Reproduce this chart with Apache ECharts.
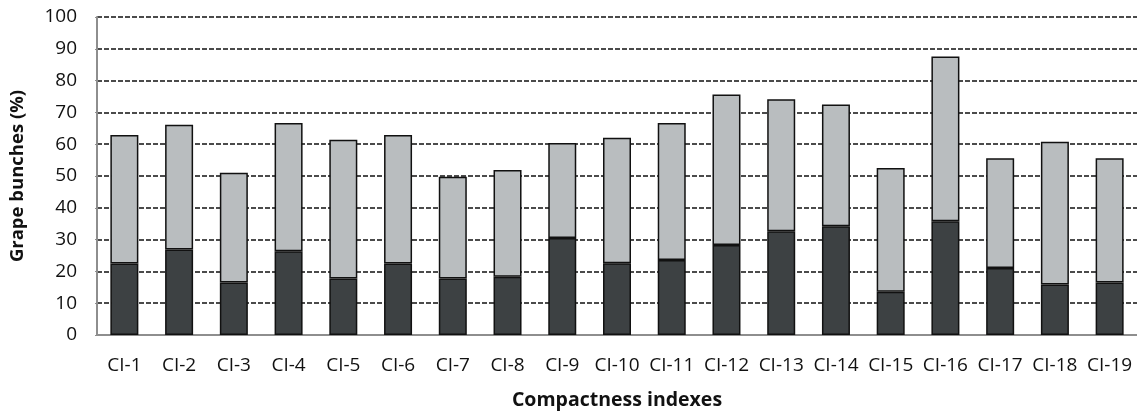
<!DOCTYPE html>
<html>
<head>
<meta charset="utf-8">
<script src="https://cdn.jsdelivr.net/npm/echarts@6/dist/echarts.min.js"></script>
<style>
html,body{margin:0;padding:0;background:#fff;}
#chart{width:1137px;height:415px;}
</style>
</head>
<body>
<div id="chart"></div>
<script>
const categories = ['CI-1','CI-2','CI-3','CI-4','CI-5','CI-6','CI-7','CI-8','CI-9','CI-10','CI-11','CI-12','CI-13','CI-14','CI-15','CI-16','CI-17','CI-18','CI-19'];
const darkValues = [22.5, 26.9, 16.5, 26.3, 17.8, 22.5, 17.8, 18.3, 30.5, 22.6, 23.6, 28.3, 32.6, 34.2, 13.6, 35.8, 21.1, 15.9, 16.5];
const totalValues = [62.9, 66.1, 51.0, 66.7, 61.4, 62.9, 49.8, 51.9, 60.4, 62.0, 66.7, 75.6, 74.1, 72.5, 52.5, 87.6, 55.6, 60.8, 55.6];
const lightValues = totalValues.map((t, i) => +(t - darkValues[i]).toFixed(1));

const FONT = 'Open Sans';
const chart = echarts.init(document.getElementById('chart'));
chart.setOption({
  animation: false,
  grid: { left: 94, top: 17, width: 1050, bottom: 78, containLabel: false },
  xAxis: {
    type: 'category',
    data: categories,
    name: 'Compactness indexes',
    nameLocation: 'middle',
    nameGap: 55,
    nameTextStyle: { fontFamily: FONT, fontSize: 19.5, fontWeight: 'bold', color: '#111' },
    axisLine: { lineStyle: { color: '#8e8e8e', width: 2 } },
    axisTick: { show: false },
    axisLabel: { fontFamily: FONT, fontSize: 19, color: '#111', margin: 21, interval: 0 }
  },
  yAxis: {
    type: 'value',
    min: 0, max: 100, interval: 10,
    name: 'Grape bunches (%)',
    nameLocation: 'middle',
    nameGap: 70,
    nameRotate: 90,
    nameTextStyle: { fontFamily: FONT, fontSize: 18.5, fontWeight: 'bold', color: '#111' },
    axisLine: { show: true, lineStyle: { color: '#8e8e8e', width: 2 } },
    axisTick: { show: true, length: 2, lineStyle: { color: '#8e8e8e' } },
    axisLabel: { fontFamily: FONT, fontSize: 19, color: '#111', margin: 20 },
    splitLine: { show: true, showMinLine: false, lineStyle: { color: '#111', type: [5, 2], width: 1.5 } }
  },
  series: [
    {
      type: 'bar', stack: 'a', data: darkValues, barWidth: 28,
      itemStyle: { color: '#3d4143', borderColor: '#111', borderWidth: 1.5 }
    },
    {
      type: 'bar', stack: 'a', data: lightValues, barWidth: 28,
      itemStyle: { color: '#b9bdbf', borderColor: '#111', borderWidth: 1.5 }
    }
  ]
});
</script>
</body>
</html>
